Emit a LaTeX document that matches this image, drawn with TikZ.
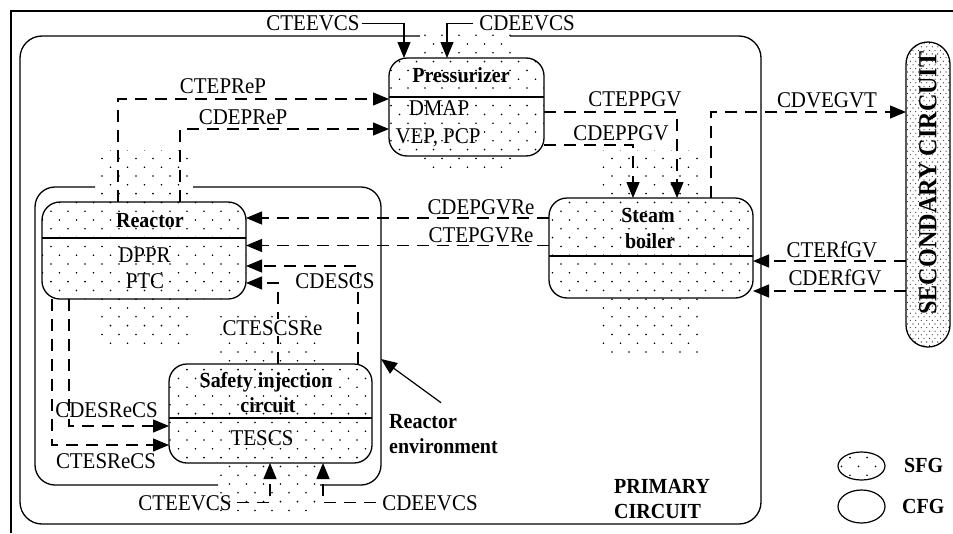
\documentclass[tikz,border=0pt]{standalone}
\usepackage{fontspec}
\setmainfont{Liberation Serif}[FakeStretch=0.93]
\usetikzlibrary{arrows.meta,shapes.geometric}

\newcommand\dotfield[7]{%
  \pgfmathtruncatemacro\dfrA{floor(#2/#6)}%
  \pgfmathtruncatemacro\dfrB{ceil(#4/#6)}%
  \pgfmathtruncatemacro\dfcA{floor(#1/#5)-1}%
  \pgfmathtruncatemacro\dfcB{ceil(#3/#5)}%
  \foreach \dr in {\dfrA,...,\dfrB}{%
    \foreach \dc in {\dfcA,...,\dfcB}{%
      \fill ({\dc*#5+mod(\dr,2)*#5/2},{\dr*#6}) circle[radius=#7];
    }}}
\newcommand\sfgrect[4]{\begin{scope}\clip (#1,#2) rectangle (#3,#4);\dotfield{#1}{#2}{#3}{#4}{17}{8.8}{0.9pt}\end{scope}}
\newcommand\sfground[4]{\begin{scope}\clip[rounded corners=18pt] (#1,#2) rectangle (#3,#4);\dotfield{#1}{#2}{#3}{#4}{17}{8.8}{0.9pt}\end{scope}}

\begin{document}
\begin{tikzpicture}[x=1pt,y=-1pt,
  fgbox/.style={draw, line width=1.3pt, rounded corners=18pt, inner sep=0pt, outer sep=0pt},
  frame/.style={line width=1.3pt},
  lbl/.style={font=\fontsize{22.5}{25}\selectfont, inner sep=2pt, anchor=base},
  blbl/.style={font=\fontsize{21.5}{25}\selectfont\bfseries, inner sep=2pt, anchor=base},
  dl/.style={line width=1.2pt, dash pattern=on 12pt off 8pt, -{Triangle[length=16pt,width=13pt]}},
  sl/.style={line width=1.2pt, -{Triangle[length=16pt,width=13pt]}},
]
\useasboundingbox (0,0) rectangle (953,533);

% outer frame
\draw[line width=2pt] (11,533) -- (11,11) -- (953,11);

% SFG dotted regions
\sfgrect{420}{30}{512}{58}
\sfgrect{420}{156}{512}{172}
\sfground{389}{58}{544}{156}
\sfgrect{98}{150}{188}{202}
\sfgrect{98}{299}{188}{348}
\sfground{42}{202}{246}{299}
\sfgrect{218}{310}{320}{364}
\sfgrect{218}{463}{320}{515}
\sfground{169}{364}{372}{463}
\sfgrect{600}{150}{700}{198}
\sfgrect{600}{298}{700}{352}
\sfground{549}{198}{753}{298}
\begin{scope}
  \clip (861.5,466) ellipse [x radius=23.5pt, y radius=14pt];
  \dotfield{836}{450}{887}{482}{17}{8.8}{0.9pt}
\end{scope}
\begin{scope}
  \clip[rounded corners=22pt] (906,42) rectangle (950,347);
  \dotfield{904}{40}{952}{349}{5.5}{3.6}{0.55pt}
\end{scope}

% CFG frames
\draw[frame, rounded corners=22pt] (510,36) -- (761,36) -- (761,524) -- (20,524) -- (20,36) -- (420,36);
\draw[frame, rounded corners=20pt] (193,187) -- (381,187) -- (381,485) -- (320,485);
\draw[frame, rounded corners=20pt] (218,485) -- (35,485) -- (35,187) -- (95,187);

% boxes
\node[fgbox, minimum width=155pt, minimum height=98pt] (press) at (466.5,107) {};
\node[fgbox, minimum width=204pt, minimum height=97pt] (reactor) at (144,250.5) {};
\node[fgbox, minimum width=203pt, minimum height=99pt] (si) at (270.5,413.5) {};
\node[fgbox, minimum width=204pt, minimum height=100pt] (boiler) at (651,248) {};
\node[draw, line width=1.3pt, rounded corners=22pt, minimum width=44pt, minimum height=305pt, inner sep=0pt, outer sep=0pt] (sec) at (928,194.5) {};
\node[draw, line width=1.2pt, ellipse, minimum width=47pt, minimum height=28pt, inner sep=0pt] (lsfg) at (861.5,466) {};
\node[draw, line width=1.2pt, ellipse, minimum width=47pt, minimum height=33pt, inner sep=0pt] (lcfg) at (861.5,506.5) {};

% dividers
\draw[line width=1.3pt] (press.west |- 0,97) -- (press.east |- 0,97);
\draw[line width=1.3pt] (reactor.west |- 0,238) -- (reactor.east |- 0,238);
\draw[line width=1.3pt] (si.west |- 0,418) -- (si.east |- 0,418);
\draw[line width=1.3pt] (boiler.west |- 0,256) -- (boiler.east |- 0,256);

% box texts
\node[blbl] (tPress) at (461,82) {Pressurizer};
\node[lbl] (tDMAP) at (439,115) {DMAP};
\node[lbl] (tVEP) at (438,143) {VEP, PCP};
\node[blbl] (tReactor) at (150,227) {Reactor};
\node[lbl] (tDPPR) at (144.5,262) {DPPR};
\node[lbl] (tPTC) at (145,288) {PTC};
\node[blbl] (tSafety) at (266,387) {Safety injection};
\node[blbl] (tCircuit) at (268,412) {circuit};
\node[lbl] (tTESCS) at (262,445) {TESCS};
\node[blbl] (tSteam) at (648,222) {Steam};
\node[blbl] (tBoiler) at (650,248) {boiler};
\node[font=\fontsize{26}{28}\selectfont\bfseries, rotate=90, inner sep=0pt] (tSec) at (928,183) {SECONDARY CIRCUIT};

% other texts
\node[blbl, anchor=base west] (tEnv1) at (387,428) {Reactor};
\node[blbl, anchor=base west] (tEnv2) at (387,453) {environment};
\node[blbl, anchor=base west] (tPrim1) at (612,493) {PRIMARY};
\node[blbl, anchor=base west] (tPrim2) at (612,518) {CIRCUIT};
\node[blbl, anchor=base west] (tSFG) at (902,472) {SFG};
\node[blbl, anchor=base west] (tCFG) at (900,513) {CFG};

% connector labels
\node[lbl] (tCTEEVCSa) at (313,30.5) {CTEEVCS};
\node[lbl, inner sep=6pt] (tCDEEVCSa) at (527,30.5) {CDEEVCS};
\node[lbl] (tCTEPReP) at (223,93) {CTEPReP};
\node[lbl] (tCDEPReP) at (243,124) {CDEPReP};
\node[lbl] (tCTEPPGV) at (635,106) {CTEPPGV};
\node[lbl] (tCDEPPGV) at (621,140) {CDEPPGV};
\node[lbl] (tCDVEGVT) at (827,107) {CDVEGVT};
\node[lbl] (tCDEPGVRe) at (481,214) {CDEPGVRe};
\node[lbl] (tCTEPGVRe) at (481,242) {CTEPGVRe};
\node[lbl] (tCTERfGV) at (832,257) {CTERfGV};
\node[lbl] (tCDERfGV) at (835,285) {CDERfGV};
\node[lbl] (tCDESCS) at (335,288) {CDESCS};
\node[lbl] (tCDESReCS) at (106.5,417) {CDESReCS};
\node[lbl] (tCTESReCS) at (106,468) {CTESReCS};
\node[lbl, inner sep=5pt] (tCTEEVCSb) at (185,510) {CTEEVCS};
\node[lbl, inner sep=6pt] (tCDEEVCSb) at (430,510) {CDEEVCS};

% connectors
\draw[sl] (tCTEEVCSa.east) -| (press.north -| 404,0);
\draw[sl] (tCDEEVCSa.west) -| (press.north -| 447,0);
\draw[dl] (reactor.north -| 118,0) |- (press.west |- 0,99);
\draw[dl] (reactor.north -| 180,0) |- (press.west |- 0,129);
\draw[dl] (press.east |- 0,112) -| (boiler.north -| 677,0);
\draw[dl] (press.east |- 0,145) -| (boiler.north -| 633,0);
\draw[dl] (boiler.north -| 711,0) |- (sec.west |- 0,112);
\draw[dl] (boiler.west |- 0,218) -- (reactor.east |- 0,218);
\draw[dl] (boiler.west |- 0,245.5) -- (reactor.east |- 0,245.5);
\draw[dl] (sec.west |- 0,261) -- (boiler.east |- 0,261);
\draw[dl] (sec.west |- 0,291) -- (boiler.east |- 0,291);
\draw[dl] (si.north -| 358,0) |- (reactor.east |- 0,266);
\draw[dl] (si.north -| 278,0) |- (reactor.east |- 0,283);
\draw[dl] (reactor.south -| 69,0) |- (si.west |- 0,426);
\draw[dl] (reactor.south -| 52,0) |- (si.west |- 0,445);
\draw[dl] (tCTEEVCSb.east) -| (si.south -| 270,0);
\draw[dl] (tCDEEVCSb.west) -| (si.south -| 323,0);
\coordinate (envpt) at (381,359);
\draw[sl] ([xshift=18pt,yshift=9pt]tEnv1.north) -- (envpt);

\node[lbl, fill=white, inner sep=1pt] (tCTESCSRe) at (272.5,335) {CTESCSRe};
\end{tikzpicture}
\end{document}
